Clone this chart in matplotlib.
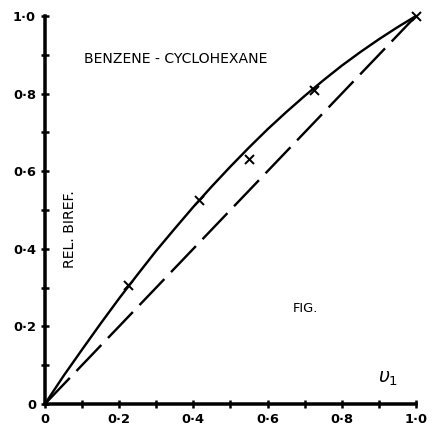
import numpy as np
import matplotlib
matplotlib.use("Agg")
import matplotlib.pyplot as plt

# measured relative birefringence vs volume fraction
v1_meas = [0.223, 0.414, 0.551, 0.726, 1.0]
biref_meas = [0.306, 0.526, 0.632, 0.808, 1.0]

# smooth curve drawn through the measurements
v1_curve = [0.0, 0.05, 0.1, 0.15, 0.2, 0.25, 0.3, 0.35, 0.4, 0.45, 0.5,
            0.55, 0.6, 0.65, 0.7, 0.75, 0.8, 0.85, 0.9, 0.95, 1.0]
biref_curve = [0.0, 0.072, 0.140, 0.207, 0.272, 0.334, 0.395, 0.452, 0.508,
               0.561, 0.612, 0.661, 0.708, 0.752, 0.794, 0.834, 0.872,
               0.907, 0.940, 0.971, 1.0]

# additivity line
v1_ideal = [0.0, 1.0]
biref_ideal = [0.0, 1.0]

xticks_major = [0.0, 0.2, 0.4, 0.6, 0.8, 1.0]
xtick_labels = ["0", "0·2", "0·4", "0·6", "0·8", "1·0"]
yticks_major = [0.0, 0.2, 0.4, 0.6, 0.8, 1.0]
ytick_labels = ["0", "0·2", "0·4", "0·6", "0·8", "1·0"]
minor_ticks = [0.1, 0.3, 0.5, 0.7, 0.9]

fig = plt.figure(figsize=(6, 6), dpi=72)
ax = fig.add_axes([0.104, 0.065, 0.859, 0.898])

ax.plot(v1_curve, biref_curve, color="black", lw=2.4, clip_on=False,
        solid_capstyle="round")
ax.plot(v1_ideal, biref_ideal, color="black", lw=2.4, dashes=(15, 4),
        clip_on=False)
ax.plot(v1_meas, biref_meas, "x", color="black", ms=9, mew=2.0,
        clip_on=False)

ax.set_xlim(0, 1)
ax.set_ylim(0, 1)
for side in ["top", "right"]:
    ax.spines[side].set_visible(False)
for side in ["left", "bottom"]:
    ax.spines[side].set_linewidth(3.5)

ax.set_xticks(xticks_major)
ax.set_xticklabels(xtick_labels)
ax.set_yticks(yticks_major)
ax.set_yticklabels(ytick_labels)
ax.set_xticks(minor_ticks, minor=True)
ax.set_yticks(minor_ticks, minor=True)
ax.tick_params(which="both", direction="inout", length=8, width=2.5,
               labelsize=13, pad=5)
for lab in ax.get_xticklabels() + ax.get_yticklabels():
    lab.set_fontweight("bold")

ax.text(0.106, 0.89, "BENZENE - CYCLOHEXANE", fontsize=14,
        ha="left", va="center")
ax.text(0.068, 0.45, "REL. BIREF.", fontsize=14, rotation=90,
        ha="center", va="center")
ax.text(0.703, 0.245, "FIG.", fontsize=13, ha="center", va="center")
ax.text(0.925, 0.065, r"$\upsilon_1$", fontsize=19, ha="center",
        va="center", fontweight="bold")

fig.savefig("out.png", dpi=72)
